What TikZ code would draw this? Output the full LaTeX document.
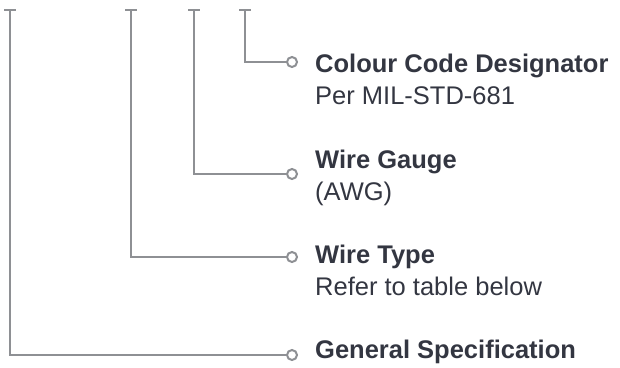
\documentclass[tikz,border=0pt]{standalone}
\usepackage{fontspec}
\setmainfont{Liberation Sans}
\usepackage{xcolor}
\usetikzlibrary{positioning}
\definecolor{leadgrey}{HTML}{8E9094}
\definecolor{ink}{HTML}{333641}

\begin{document}
\begin{tikzpicture}[x=1pt,y=-1pt,
  lead/.style={draw=leadgrey, line width=2.4pt},
  pin/.style={circle, draw=leadgrey, fill=white, line width=2pt, inner sep=0pt, minimum size=10pt},
  title/.style={anchor=base west, inner sep=0pt, text=ink, font=\fontsize{25.5}{30}\selectfont\bfseries},
  subline/.style={anchor=base west, inner sep=0pt, text=ink, font=\fontsize{25.5}{30}\selectfont}]

\useasboundingbox (0,0) rectangle (620,367);

\coordinate (topA) at (10,10);
\coordinate (topB) at (131,10);
\coordinate (topC) at (194,10);
\coordinate (topD) at (245,10);

\node[pin] (pinD) at (292,62) {};
\node[pin] (pinC) at (292,174) {};
\node[pin] (pinB) at (292,257) {};
\node[pin] (pinA) at (292,355) {};

% tick bars
\draw[lead] ([xshift=-6pt]topA) -- ([xshift=6pt]topA);
\draw[lead] ([xshift=-6pt]topB) -- ([xshift=6pt]topB);
\draw[lead] ([xshift=-6pt]topC) -- ([xshift=6pt]topC);
\draw[lead] ([xshift=-6pt]topD) -- ([xshift=6pt]topD);

% leaders
\draw[lead] (topD) |- (pinD);
\draw[lead] (topC) |- (pinC);
\draw[lead] (topB) |- (pinB);
\draw[lead] (topA) |- (pinA);

\node[title] (colour) at (315,72) {Colour Code Designator};
\node[subline] (coloursub) at ([yshift=-32pt]colour.base west) {Per MIL-STD-681};

\node[title] (gauge) at (315,168) {Wire Gauge};
\node[subline] (gaugesub) at ([yshift=-32pt]gauge.base west) {(AWG)};

\node[title] (type) at (315,263) {Wire Type};
\node[subline] (typesub) at ([yshift=-32pt]type.base west) {Refer to table below};

\node[title] (general) at (315,358) {General Specification};

\end{tikzpicture}
\end{document}
